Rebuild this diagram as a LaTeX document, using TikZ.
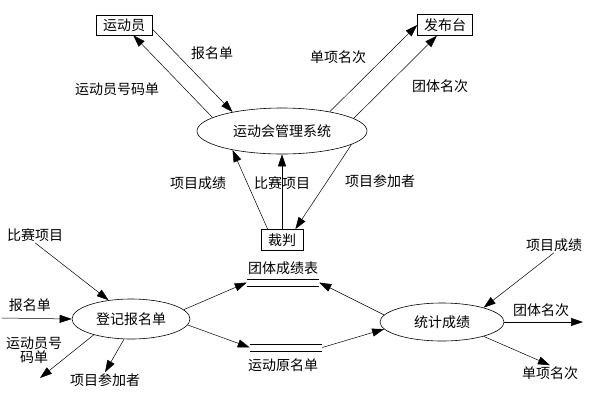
\documentclass[tikz,border=0pt]{standalone}
\usepackage{fontspec}
\setmainfont{Noto Sans CJK SC}
\usetikzlibrary{arrows.meta}
\usetikzlibrary{shapes.geometric}

\tikzset{
    entidade/.style={draw, line width=0.6pt, inner sep=0pt, minimum height=21pt},
    processo/.style={draw, ellipse, line width=0.6pt, inner sep=0pt},
    rotulo/.style={inner sep=1pt},
    deposito/.style={inner sep=0pt, minimum width=72pt, minimum height=7pt},
}

\begin{document}
\begin{tikzpicture}[>={Triangle[length=12pt,width=8pt]}, x=1pt, y=-1pt, line width=0.5pt, font=\fontsize{14}{14}\selectfont]

    \useasboundingbox (0,0) rectangle (600,400);

    % entidades externas
    \node[entidade, minimum width=56pt, minimum height=20pt] (atleta) at (124,25) {运动员};
    \node[entidade, minimum width=55pt] (placar) at (445,25) {发布台};
    \node[entidade, minimum width=42pt] (juiz) at (282,240) {裁判};

    % processos
    \node[processo, minimum width=170pt, minimum height=46pt] (sistema) at (282,131) {运动会管理系统};
    \node[processo, minimum width=118pt, minimum height=40pt] (registro) at (131,319) {登记报名单};
    \node[processo, minimum width=124pt, minimum height=38pt] (estatistica) at (442,322) {统计成绩};

    % depositos de dados
    \node[deposito] (equipe) at (283,282.5) {};
    \draw (equipe.north west) -- (equipe.north east);
    \draw (equipe.south west) -- (equipe.south east);
    \node[deposito] (nomes) at (286,347.5) {};
    \draw (nomes.north west) -- (nomes.north east);
    \draw (nomes.south west) -- (nomes.south east);

    % rotulos
    \node[rotulo] (equipeTxt) at (283,268) {团体成绩表};
    \node[rotulo] (nomesTxt) at (283,365) {运动原名单};
    \node[rotulo] (fichaTxt) at (212,53) {报名单};
    \node[rotulo] (numTxt) at (117,89) {运动员号码单};
    \node[rotulo] (indivTxt) at (338,57) {单项名次};
    \node[rotulo] (eqTxt) at (440,86) {团体名次};
    \node[rotulo] (notaTxt) at (198,183) {项目成绩};
    \node[rotulo] (provaTxt) at (282,183) {比赛项目};
    \node[rotulo] (partTxt) at (380,181) {项目参加者};
    \node[rotulo] (itensIn) at (35,235) {比赛项目};
    \node[rotulo] (fichaIn) at (30,305) {报名单};
    \node[rotulo, align=center] (numOut) at (34,350) {运动员号\\码单};
    \node[rotulo] (partic) at (105,380) {项目参加者};
    \node[rotulo] (notasIn) at (554,245) {项目成绩};
    \node[rotulo] (eqOut) at (541,310) {团体名次};
    \node[rotulo] (indiv) at (550,373) {单项名次};

    % pontas livres
    \coordinate (entrada) at (2,318);
    \coordinate (saidaNum) at (40,378);
    \coordinate (saidaEq) at (583,322);

    % fluxos do sistema
    \draw[->] (atleta.-8) -- (sistema.159);
    \draw[->] (sistema.169) -- (atleta.-48);
    \draw[->] (sistema.22) -- (placar.west);
    \draw[->] (sistema.10.5) -- (placar.-127);
    \draw[->] (juiz.143) -- (sistema.201);
    \draw[->] (juiz.north) -- (sistema.south);
    \draw[->] (sistema.-11) -- (juiz.39);

    % fluxos do registro
    \draw[->] (itensIn.south) -- (registro.140);
    \draw[->] (entrada) -- (registro.west);
    \draw[->] (registro.203) -- (saidaNum);
    \draw[->] (registro.251) -- (partic.north);
    \draw[->] (registro.10) -- (equipe.west);
    \draw[->] (registro.-6) -- (nomes.west);

    % fluxos da estatistica
    \draw[->] (estatistica.173) -- (equipe.east);
    \draw[->] (nomes.east) -- (estatistica.187);
    \draw[->] (notasIn.south) -- (estatistica.19);
    \draw[->] (estatistica.east) -- (saidaEq);
    \draw[->] (estatistica.-19) -- (indiv.north);

\end{tikzpicture}
\end{document}
